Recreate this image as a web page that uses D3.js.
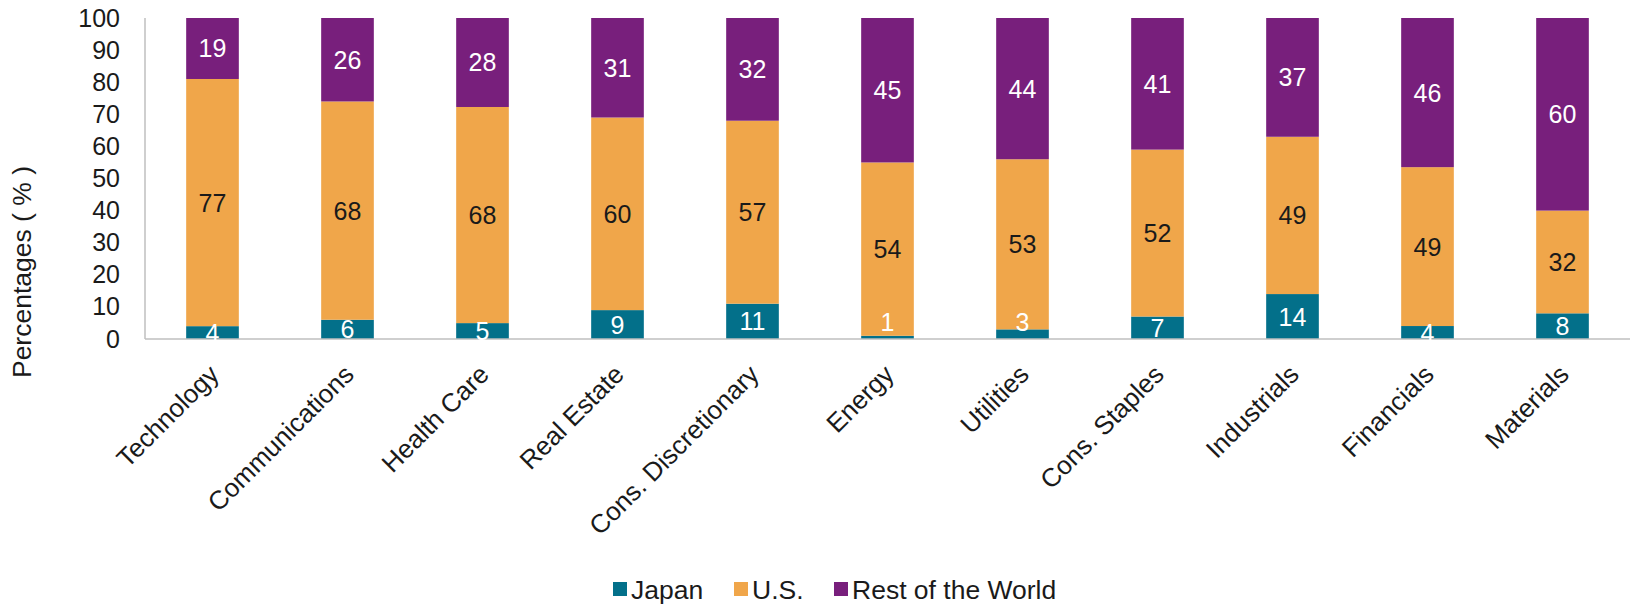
<!DOCTYPE html>
<html>
<head>
<meta charset="utf-8">
<script src="https://cdn.jsdelivr.net/npm/d3@7/dist/d3.min.js"></script>
<style>
  html, body { margin: 0; padding: 0; background: #fff; }
  svg text { font-family: "Liberation Sans", Arial, sans-serif; }
</style>
</head>
<body>
<svg id="chart" width="1633" height="604"></svg>
<script>
// Regional share of each sector (%)
const sectors = ["Technology", "Communications", "Health Care", "Real Estate",
  "Cons. Discretionary", "Energy", "Utilities", "Cons. Staples", "Industrials",
  "Financials", "Materials"];
const japan = [4, 6, 5, 9, 11, 1, 3, 7, 14, 4, 8];
const us    = [77, 68, 68, 60, 57, 54, 53, 52, 49, 49, 32];
const rest  = [19, 26, 28, 31, 32, 45, 44, 41, 37, 46, 60];
const seriesNames = ["Japan", "U.S.", "Rest of the World"];
const yTicks = [0, 10, 20, 30, 40, 50, 60, 70, 80, 90, 100];

const colors = { "Japan": "#03708A", "U.S.": "#F0A64A", "Rest of the World": "#781F7C" };
const labelColors = { "Japan": "#ffffff", "U.S.": "#1a1a1a", "Rest of the World": "#ffffff" };

const rows = sectors.map((s, i) => ({ sector: s, "Japan": japan[i], "U.S.": us[i], "Rest of the World": rest[i] }));
// 100% stacked: each sector's bar is normalised to its total
const stacked = d3.stack().keys(seriesNames).offset(d3.stackOffsetExpand)(rows);

const svg = d3.select("#chart");
const plotLeft = 145, plotRight = 1630, plotTop = 18, plotBottom = 339;

const x = d3.scaleBand().domain(sectors).range([plotLeft, plotRight]).paddingInner(0.61).paddingOuter(0.305);
const y = d3.scaleLinear().domain([0, 1]).range([plotBottom, plotTop]);

// Stacked bars
const layers = svg.append("g").selectAll("g").data(stacked).join("g")
  .attr("fill", d => colors[d.key]);
layers.selectAll("rect").data(d => d).join("rect")
  .attr("x", d => x(d.data.sector))
  .attr("width", x.bandwidth())
  .attr("y", d => y(d[1]))
  .attr("height", d => y(d[0]) - y(d[1]));

// Axis lines
svg.append("line").attr("x1", plotLeft).attr("x2", plotLeft).attr("y1", plotTop).attr("y2", plotBottom)
  .attr("stroke", "#bfbfbf").attr("stroke-width", 1.5);
svg.append("line").attr("x1", plotLeft).attr("x2", plotRight).attr("y1", plotBottom).attr("y2", plotBottom)
  .attr("stroke", "#bfbfbf").attr("stroke-width", 1.5);

// Y tick labels (0–100 %)
const yAxis = svg.append("g").attr("transform", `translate(${plotLeft},0)`)
  .call(d3.axisLeft(y).tickValues(yTicks.map(t => t / 100))
    .tickFormat(v => String(Math.round(v * 100))).tickSize(0).tickPadding(25));
yAxis.select(".domain").remove();
yAxis.selectAll("text").attr("font-size", 25).attr("fill", "#1a1a1a")
  .style("font-family", "'Liberation Sans', Arial, sans-serif");

// Y axis title
svg.append("text")
  .attr("transform", "translate(31,272) rotate(-90)")
  .attr("text-anchor", "middle")
  .attr("font-size", 26.5).attr("fill", "#1a1a1a")
  .text("Percentages ( % )");

// Category labels
svg.append("g").selectAll("text").data(sectors).join("text")
  .attr("transform", d => `translate(${x(d) + x.bandwidth() / 2 + 8},376) rotate(-45)`)
  .attr("text-anchor", "end")
  .attr("font-size", 26).attr("fill", "#1a1a1a")
  .text(d => d);

// Segment value labels, drawn above all bars; very thin bottom segments
// lift their label clear of the axis line
const labelLayer = svg.append("g");
stacked.forEach(layer => {
  labelLayer.append("g").selectAll("text").data(layer).join("text")
    .attr("x", d => x(d.data.sector) + x.bandwidth() / 2)
    .attr("y", d => {
      const c = (y(d[0]) + y(d[1])) / 2;
      return (d.data[layer.key] <= 3 && d[0] === 0) ? plotBottom - 17 : c;
    })
    .attr("dy", "0.36em")
    .attr("text-anchor", "middle")
    .attr("font-size", 25)
    .attr("fill", labelColors[layer.key])
    .text(d => d.data[layer.key]);
});

// Legend
const legendItems = [
  { key: "Japan", x: 613 },
  { key: "U.S.", x: 734 },
  { key: "Rest of the World", x: 834 }
];
const lg = svg.append("g").selectAll("g").data(legendItems).join("g")
  .attr("transform", d => `translate(${d.x},589)`);
lg.append("rect").attr("x", 0).attr("y", -7).attr("width", 14).attr("height", 14)
  .attr("fill", d => colors[d.key]);
lg.append("text").attr("x", 18).attr("dy", "0.36em")
  .attr("font-size", 26.5).attr("fill", "#1a1a1a")
  .text(d => d.key);
</script>
</body>
</html>
